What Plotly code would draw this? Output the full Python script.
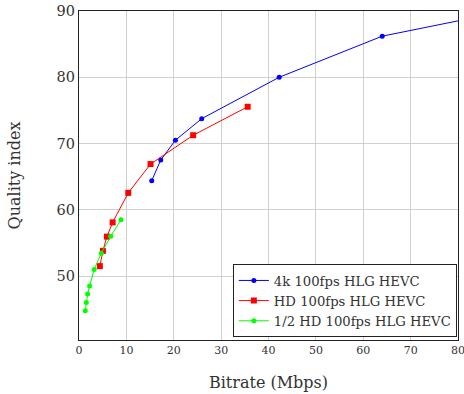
import plotly.graph_objects as go

x_4k = [15.35, 17.25, 20.35, 25.9, 42.26, 64.0, 100.0]
y_4k = [64.4, 67.5, 70.5, 73.75, 80.0, 86.2, 91.4]

x_hd = [4.4, 5.05, 5.9, 7.1, 10.4, 15.1, 24.1, 35.6]
y_hd = [51.5, 53.8, 55.95, 58.1, 62.55, 66.9, 71.25, 75.55]

x_half = [1.33, 1.54, 1.82, 2.24, 3.2, 4.7, 6.7, 8.86]
y_half = [44.75, 46.0, 47.3, 48.5, 51.0, 53.45, 56.0, 58.5]

names = ["4k 100fps HLG HEVC", "HD 100fps HLG HEVC", "1/2 HD 100fps HLG HEVC"]
x_ticks = [0, 10, 20, 30, 40, 50, 60, 70, 80]
y_ticks = [50, 60, 70, 80, 90]

FONT = "DejaVu Serif"

fig = go.Figure()
fig.add_trace(go.Scatter(x=x_4k, y=y_4k, mode="lines+markers", name=names[0],
                         line=dict(color="#0000ff", width=1),
                         marker=dict(color="#0000ff", size=5, symbol="circle")))
fig.add_trace(go.Scatter(x=x_hd, y=y_hd, mode="lines+markers", name=names[1],
                         line=dict(color="#ff0000", width=1),
                         marker=dict(color="#ff0000", size=6, symbol="square")))
fig.add_trace(go.Scatter(x=x_half, y=y_half, mode="lines+markers", name=names[2],
                         line=dict(color="#00ff00", width=1),
                         marker=dict(color="#00ff00", size=5, symbol="circle")))

fig.update_layout(
    width=464, height=394,
    margin=dict(l=79, r=6, t=11, b=54, autoexpand=False),
    paper_bgcolor="white", plot_bgcolor="white",
    font=dict(family=FONT, color="#333"),
    showlegend=True,
    legend=dict(x=0.997, y=0.008, xanchor="right", yanchor="bottom",
                bgcolor="white", bordercolor="#222", borderwidth=1,
                font=dict(family=FONT, size=13.2, color="#333"),
                tracegroupgap=0, itemwidth=30),
    xaxis=dict(range=[0, 80], tickvals=x_ticks, showgrid=True, gridcolor="#d0d0d0",
               gridwidth=1, showline=True, linecolor="#222", linewidth=1.2, mirror=True,
               zeroline=False, ticks="", tickfont=dict(size=11, family=FONT), automargin=False,
               ticklabeloverflow="allow",
               title=dict(text="Bitrate (Mbps)", font=dict(size=16, family=FONT), standoff=20)),
    yaxis=dict(range=[40.35, 90], tickvals=y_ticks, showgrid=True, gridcolor="#d0d0d0",
               gridwidth=1, showline=True, linecolor="#222", linewidth=1.2, mirror=True,
               zeroline=False, ticks="", tickfont=dict(size=14.5, family=FONT), automargin=False,
               ticklabeloverflow="allow",
               title=dict(text="Quality index", font=dict(size=16, family=FONT), standoff=31)),
)

fig.write_html("out.html", config={"displayModeBar": False},
               post_script="document.body.style.margin='0px';")
